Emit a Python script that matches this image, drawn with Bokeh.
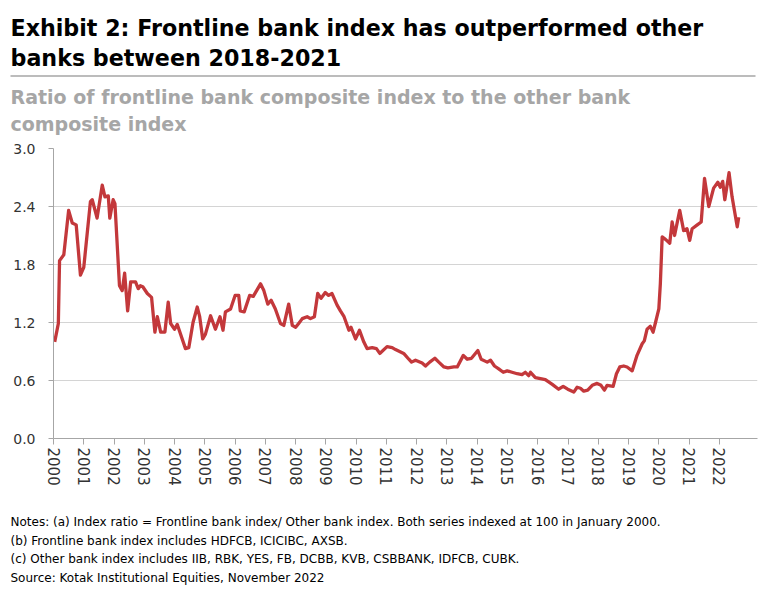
from bokeh.plotting import figure
from bokeh.layouts import column, row
from bokeh.models import Range1d, FixedTicker
from bokeh.core.properties import value
from bokeh.embed import file_html
from bokeh.resources import INLINE

# ---------------- data ----------------
years = [
    2000.04, 2000.16, 2000.20, 2000.34, 2000.50, 2000.62, 2000.75, 2000.89, 2001.00,
    2001.22, 2001.28, 2001.44, 2001.61, 2001.70, 2001.81, 2001.86, 2001.97, 2002.03,
    2002.18, 2002.27, 2002.35, 2002.45, 2002.55, 2002.71, 2002.80, 2002.87, 2002.95,
    2003.10, 2003.24, 2003.35, 2003.43, 2003.54, 2003.68, 2003.79, 2003.87, 2004.00,
    2004.09, 2004.36, 2004.47, 2004.61, 2004.75, 2004.83, 2004.93, 2005.02, 2005.19,
    2005.35, 2005.50, 2005.60, 2005.68, 2005.85, 2006.00, 2006.12, 2006.17, 2006.30,
    2006.48, 2006.60, 2006.84, 2006.95, 2007.08, 2007.19, 2007.33, 2007.50, 2007.61,
    2007.77, 2007.89, 2008.00, 2008.10, 2008.22, 2008.38, 2008.49, 2008.62, 2008.73,
    2008.84, 2008.98, 2009.09, 2009.20, 2009.37, 2009.48, 2009.60, 2009.76, 2009.83,
    2009.98, 2010.11, 2010.25, 2010.36, 2010.53, 2010.67, 2010.78, 2011.02, 2011.19,
    2011.30, 2011.57, 2011.74, 2011.83, 2011.96, 2012.18, 2012.29, 2012.43, 2012.60,
    2012.73, 2012.90, 2013.03, 2013.23, 2013.34, 2013.54, 2013.67, 2013.81, 2014.02,
    2014.13, 2014.33, 2014.44, 2014.57, 2014.71, 2014.86, 2014.99, 2015.15, 2015.32,
    2015.48, 2015.59, 2015.70, 2015.76, 2015.92, 2016.09, 2016.25, 2016.48, 2016.69,
    2016.84, 2016.99, 2017.19, 2017.30, 2017.41, 2017.52, 2017.65, 2017.80, 2017.96,
    2018.09, 2018.20, 2018.29, 2018.49, 2018.60, 2018.71, 2018.84, 2018.95, 2019.12,
    2019.28, 2019.45, 2019.52, 2019.61, 2019.72, 2019.81, 2019.89, 2020.00, 2020.05,
    2020.11, 2020.22, 2020.36, 2020.44, 2020.52, 2020.69, 2020.82, 2020.93, 2021.02,
    2021.10, 2021.27, 2021.40, 2021.51, 2021.65, 2021.81, 2021.95, 2022.03, 2022.11,
    2022.18, 2022.32, 2022.42, 2022.59, 2022.64,
]
ratio = [
    1.00, 1.19, 1.84, 1.90, 2.36, 2.23, 2.21, 1.69, 1.77,
    2.45, 2.47, 2.28, 2.62, 2.50, 2.51, 2.28, 2.47, 2.43,
    1.58, 1.53, 1.71, 1.32, 1.62, 1.62, 1.55, 1.58, 1.57,
    1.50, 1.46, 1.10, 1.26, 1.10, 1.10, 1.41, 1.19, 1.13,
    1.18, 0.93, 0.94, 1.20, 1.36, 1.26, 1.03, 1.08, 1.27,
    1.13, 1.26, 1.12, 1.31, 1.34, 1.48, 1.48, 1.32, 1.31,
    1.48, 1.47, 1.60, 1.53, 1.39, 1.43, 1.34, 1.19, 1.17,
    1.39, 1.17, 1.15, 1.19, 1.24, 1.26, 1.24, 1.26, 1.50,
    1.45, 1.51, 1.48, 1.50, 1.38, 1.32, 1.26, 1.12, 1.15,
    1.03, 1.12, 1.00, 0.93, 0.94, 0.93, 0.88, 0.95, 0.94,
    0.92, 0.88, 0.82, 0.79, 0.81, 0.78, 0.75, 0.79, 0.83,
    0.79, 0.74, 0.73, 0.74, 0.74, 0.86, 0.82, 0.83, 0.91,
    0.82, 0.79, 0.81, 0.75, 0.72, 0.685, 0.70, 0.685, 0.67,
    0.66, 0.685, 0.65, 0.685, 0.63, 0.62, 0.61, 0.56, 0.51,
    0.54, 0.51, 0.48, 0.53, 0.52, 0.49, 0.50, 0.55, 0.57,
    0.55, 0.50, 0.55, 0.54, 0.67, 0.74, 0.75, 0.74, 0.70,
    0.86, 0.98, 1.01, 1.13, 1.16, 1.10, 1.20, 1.34, 1.60,
    2.085, 2.06, 2.02, 2.24, 2.10, 2.36, 2.15, 2.17, 2.05,
    2.17, 2.21, 2.24, 2.69, 2.40, 2.59, 2.65, 2.60, 2.66,
    2.47, 2.75, 2.50, 2.19, 2.29,
]
x_ticks = list(range(2000, 2023))
x_labels = [str(y) for y in x_ticks]
y_ticks = [0.0, 0.6, 1.2, 1.8, 2.4, 3.0]
y_labels = ["0.0", "0.6", "1.2", "1.8", "2.4", "3.0"]

title_lines = ["Exhibit 2: Frontline bank index has outperformed other",
               "banks between 2018-2021"]
subtitle_lines = ["Ratio of frontline bank composite index to the other bank",
                  "composite index"]
note_lines = [
    "Notes: (a) Index ratio = Frontline bank index/ Other bank index. Both series indexed at 100 in January 2000.",
    "(b) Frontline bank index includes HDFCB, ICICIBC, AXSB.",
    "(c) Other bank index includes IIB, RBK, YES, FB, DCBB, KVB, CSBBANK, IDFCB, CUBK.",
    "Source: Kotak Institutional Equities, November 2022",
]

FONT = "DejaVu Sans"
W = 762
HDR_H = 141          # page rows 0..141
MAIN_H = 368         # page rows 141..509
NOTE_H = 80          # page rows 509..589


def blank(h):
    f = figure(width=W, height=h, x_range=Range1d(0, W), y_range=Range1d(0, h),
               output_backend="svg", toolbar_location=None,
               x_axis_location=None, y_axis_location=None, min_border=0)
    f.title.visible = False
    f.grid.visible = False
    f.outline_line_color = None
    return f


# ---------------- header (data units = page pixels, y measured up from bottom) ----------------
header = blank(HDR_H)
header.text(x=[10, 10], y=[HDR_H - 27, HDR_H - 57], text=title_lines, text_font=value(FONT),
            text_font_size="22.2px", text_font_style="bold", text_color="#000000",
            text_baseline="middle")
header.segment(x0=[10], y0=[HDR_H - 75.5], x1=[755], y1=[HDR_H - 75.5],
               line_color="#A6A6A6", line_width=1.5)
header.text(x=[10, 10], y=[HDR_H - 96, HDR_H - 123], text=subtitle_lines, text_font=value(FONT),
            text_font_size="19px", text_font_style="bold", text_color="#A6A6A6",
            text_baseline="middle")

# ---------------- main chart ----------------
FR_L, FR_R = 53, 757
p = figure(width=W, height=MAIN_H, x_range=Range1d(2000, 2023.26), y_range=Range1d(0, 3.0),
           output_backend="svg", toolbar_location=None,
           min_border_left=FR_L, min_border_right=W - FR_R, min_border_top=7,
           min_border_bottom=MAIN_H - 7 - 290)
p.title.visible = False
p.outline_line_color = None
p.xgrid.visible = False
p.ygrid.grid_line_color = "#D4D4D4"
p.ygrid.grid_line_width = 1.2

p.xaxis.ticker = FixedTicker(ticks=x_ticks)
p.xaxis.major_label_overrides = {t: l for t, l in zip(x_ticks, x_labels)}
p.xaxis.major_label_orientation = "vertical"
p.xaxis.major_tick_in = 0
p.xaxis.major_tick_out = 6
p.xaxis.minor_tick_line_color = None
p.xaxis.major_label_standoff = 3

p.yaxis.ticker = FixedTicker(ticks=y_ticks)
p.yaxis.major_label_overrides = {t: l for t, l in zip(y_ticks, y_labels)}
p.yaxis.major_tick_in = 0
p.yaxis.major_tick_out = 5
p.yaxis.minor_tick_line_color = None
p.yaxis.major_label_standoff = 13

for ax in (p.xaxis, p.yaxis):
    ax.axis_line_color = "#A6A6A6"
    ax.major_tick_line_color = "#A6A6A6"
    ax.major_label_text_font = FONT
    ax.major_label_text_color = "#333333"
p.xaxis.major_label_text_font_size = "15px"
p.yaxis.major_label_text_font_size = "14px"

p.line(years, ratio, line_color="#C3383B", line_width=3.3, line_join="round")

# ---------------- notes ----------------
notes = blank(NOTE_H)
page_top = HDR_H + MAIN_H
notes.text(x=[10] * 4, y=[NOTE_H - (r - page_top) for r in (521, 540, 558, 577)],
           text=note_lines, text_font=value(FONT), text_font_size="12px",
           text_color="#000000", text_baseline="middle")

layout = column(row(header), row(p), row(notes))
open("out.html", "w").write(file_html(layout, INLINE))
